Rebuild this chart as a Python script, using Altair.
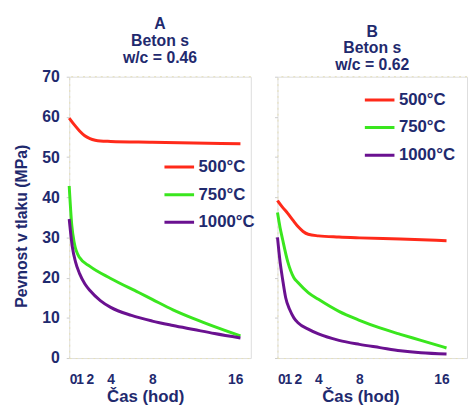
import altair as alt
import pandas as pd

series = ["500°C", "750°C", "1000°C"]
colors = ["#ff2a1a", "#3ae61e", "#6a1190"]

# Panel A (w/c = 0.46)
a_t = {
    "500°C":  [0, 0.5, 1, 1.5, 2, 2.5, 3, 4, 8, 12, 16.5],
    "750°C":  [0, 0.25, 0.5, 1, 2, 4, 6.7, 8, 10, 12, 14, 16.5],
    "1000°C": [0, 0.3, 0.6, 1, 1.5, 2, 3, 4, 6, 8, 10, 12, 14, 16.5],
}
a_v = {
    "500°C":  [59.7, 58, 56.5, 55.3, 54.6, 54.2, 54, 53.9, 53.7, 53.5, 53.3],
    "750°C":  [42.8, 33, 28.5, 25, 22.8, 19.8, 16.3, 14.6, 12, 9.8, 7.8, 5.5],
    "1000°C": [34.6, 27.7, 24, 21, 18.5, 16.8, 14.3, 12.6, 10.6, 9.2, 8.1, 7.1, 6.1, 5],
}
# Panel B (w/c = 0.62)
b_t = {
    "500°C":  [0, 0.5, 1, 1.5, 2, 2.5, 3, 4, 6, 8, 12, 16.5],
    "750°C":  [0, 0.25, 0.5, 1, 1.6, 2, 3, 4, 6, 8, 10, 12, 14, 16.5],
    "1000°C": [0, 0.25, 0.5, 0.8, 1.2, 1.6, 2, 3, 4, 6, 8, 10, 12, 14, 16.5],
}
b_v = {
    "500°C":  [39.2, 37.5, 36, 34.3, 32.7, 31.5, 30.8, 30.4, 30.1, 29.9, 29.6, 29.2],
    "750°C":  [36.2, 32.5, 29.5, 24, 20, 18.8, 16.3, 14.6, 11.6, 9.4, 7.5, 5.9, 4.4, 2.5],
    "1000°C": [30, 24, 19.6, 15, 12, 10, 8.8, 7.2, 6, 4.4, 3.4, 2.6, 1.8, 1.3, 1.0],
}
x_ticks = [0, 1, 2, 4, 8, 16]
y_ticks = [0, 10, 20, 30, 40, 50, 60, 70]

NAVY = "#1f2a6e"
FONT = "Liberation Sans Narrow, Arial Narrow, Liberation Sans, sans-serif"
GRID = "#e6e0b8"


def frame(t, v):
    rows = []
    for s in series:
        for tt, vv in zip(t[s], v[s]):
            rows.append({"t": tt, "v": vv, "s": s})
    return pd.DataFrame(rows)


def panel(df, title, xmax, width, show_y, lx, ly, title_x):
    color = alt.Color(
        "s:N",
        scale=alt.Scale(domain=series, range=colors),
        legend=alt.Legend(
            title=None, orient="none", legendX=lx, legendY=ly,
            symbolType="stroke", symbolSize=900, symbolStrokeWidth=3,
            clipHeight=17, rowPadding=10,
            labelFont=FONT, labelFontSize=17, labelFontWeight="bold",
            labelColor=NAVY, labelOffset=3,
            labelExpr="datum.label == '1000°C' ? datum.label : '\u2007' + datum.label",
        ),
    )
    yaxis = alt.Axis(
        values=y_ticks, grid=False, domainColor=GRID, domainDash=[2, 4],
        tickColor="#cccccc", tickSize=3, labelPadding=7,
        labelFont=FONT, labelFontSize=16, labelFontWeight="bold", labelColor=NAVY,
        labels=show_y,
        title="Pevnost v tlaku  (MPa)" if show_y else None,
        titleFont=FONT, titleFontSize=16, titleFontWeight="bold", titleColor=NAVY,
        titlePadding=12, titleY=151,
    )
    xaxis = alt.Axis(
        values=x_ticks, grid=False, domainColor=GRID, domainDash=[2, 4],
        ticks=False, labelPadding=15, labelOverlap=False,
        labelFont=FONT, labelFontSize=14, labelFontWeight="bold", labelColor=NAVY,
        title="Čas (hod)", titleFont=FONT, titleFontSize=17,
        titleFontWeight="bold", titleColor=NAVY, titlePadding=2, titleX=title_x,
    )
    lines = alt.Chart(df).mark_line(strokeWidth=3, interpolate="monotone").encode(
        x=alt.X("t:Q", scale=alt.Scale(domain=[0, xmax], nice=False), axis=xaxis),
        y=alt.Y("v:Q", scale=alt.Scale(domain=[0, 70], nice=False), axis=yaxis),
        color=color,
        detail="s:N",
    )
    top = alt.Chart(pd.DataFrame({"y": [70]})).mark_rule(
        color=GRID, strokeDash=[2, 4], strokeWidth=1
    ).encode(y="y:Q")
    return alt.layer(top, lines).properties(
        width=width, height=285,
        title=alt.TitleParams(
            text=title, font=FONT, fontSize=16, fontWeight="bold",
            color=NAVY, anchor="middle", lineHeight=17, offset=3,
        ),
    )


pa = panel(frame(a_t, a_v), ["A", "Beton s", "w/c = 0.46"], 17.5, 184, True, 95, 83, 77)
pb = panel(frame(b_t, b_v), ["B", "Beton s", "w/c = 0.62"], 18.5, 192, False, 87, 15, 84)

chart = alt.hconcat(pa, pb, spacing=15).resolve_scale(color="independent").resolve_legend(
    color="independent"
).properties(padding={"left": 5, "top": 5, "right": 0, "bottom": 0}).configure_view(
    stroke=None
).configure(background="white")

chart.save("out.html", embed_options={"renderer": "svg", "actions": False})
